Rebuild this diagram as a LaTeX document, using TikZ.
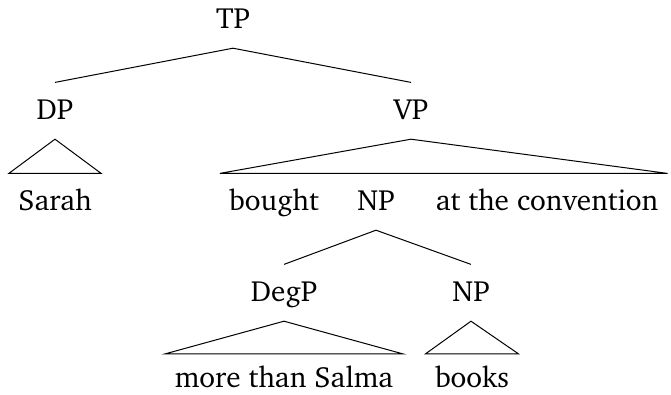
\documentclass[tikz,border=0pt]{standalone}
\usepackage[T1]{fontenc}
\usepackage{charter}
\begin{document}
\begin{tikzpicture}[x=0.5pt,y=-0.5pt,
  lbl/.style={inner xsep=4.5pt,inner ysep=9.4pt,text height=9.2pt,text depth=0pt,anchor=base,
    font=\fontsize{14.6}{17}\selectfont},
  leaf/.style={lbl,inner ysep=0.5pt,text height=18.1pt},
  lowleaf/.style={lbl,inner ysep=0.5pt,text height=16.4pt},
  edge/.style={line width=0.5pt,line join=miter}]
\useasboundingbox (0,0) rectangle (671,395);
\node[lbl] (TP) at (233,29) {TP};
\node[lbl] (DP) at (55,120) {DP};
\node[lbl] (VP) at (411,120) {VP};
\node[leaf] (sarah) at (55,211) {Sarah};
\node[leaf] (bought) at (274,211) {bought};
\node[lbl] (NP) at (376,211) {NP};
\node[leaf] (conv) at (547,211) {at the convention};
\node[lbl] (DegP) at (284,302) {DegP};
\node[lbl] (NPb) at (471,302) {NP};
\node[lowleaf] (mts) at (284,388) {more than Salma};
\node[lowleaf] (books) at (472,388) {books};
\draw[edge] (DP.north) -- (TP.south) -- (VP.north);
\draw[edge] (DP.south) -- (sarah.north west) -- (sarah.north east) -- cycle;
\draw[edge] (VP.south) -- (bought.north west) -- (conv.north east) -- cycle;
\draw[edge] (DegP.north) -- (NP.south) -- (NPb.north);
\draw[edge] (DegP.south) -- (mts.north west) -- (mts.north east) -- cycle;
\draw[edge] (NPb.south) -- (books.north west) -- (books.north east) -- cycle;
\end{tikzpicture}
\end{document}
